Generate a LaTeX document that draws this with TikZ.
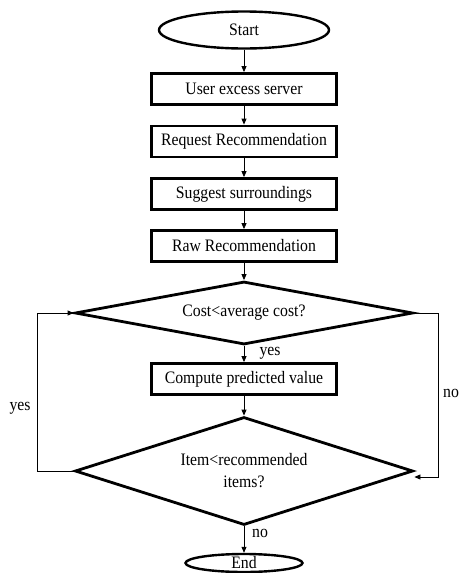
\documentclass[tikz,border=0pt]{standalone}
\usepackage{fontspec}
\setmainfont{Liberation Serif}[FakeStretch=0.9]
\usetikzlibrary{shapes.geometric,arrows.meta}
\begin{document}
\begin{tikzpicture}[x=1pt,y=-1pt,
  every node/.style={font=\fontsize{17.5}{22}\selectfont},
  procbox/.style={draw,line width=2.8pt,rectangle,minimum width=185pt,minimum height=31pt,inner sep=0pt},
  term/.style={draw,line width=2.4pt,ellipse,inner sep=0pt},
  decide/.style={draw,line width=2.8pt,diamond,inner sep=0pt,align=center},
  flow/.style={line width=0.8pt,-{Triangle[length=6pt,width=5pt]}},
  lbl/.style={inner sep=0pt,anchor=center}
]
\useasboundingbox (0,0) rectangle (459,573);
\node[term,minimum width=170pt,minimum height=37pt] (start) at (244,30) {Start};
\node[procbox] (b1) at (244,89) {User excess server};
\node[procbox] (b2) at (244,141.5) {Request Recommendation};
\node[procbox] (b3) at (244,194) {Suggest surroundings};
\node[procbox] (b4) at (244,246) {Raw Recommendation};
\node[decide,aspect=5,minimum width=338pt,minimum height=63pt] (d1) at (244,313) {Cost<average cost?};
\node[procbox] (b5) at (244,379) {Compute predicted value};
\node[decide,aspect=3,minimum width=338pt,minimum height=108pt] (d2) at (244,471) {Item<recommended\\items?};
\node[term,minimum width=117pt,minimum height=18pt] (end) at (244,563) {End};

\draw[flow] (start) -- (b1);
\draw[flow] (b1) -- (b2);
\draw[flow] (b2) -- (b3);
\draw[flow] (b3) -- (b4);
\draw[flow] (b4) -- (d1);
\draw[flow] (d1) -- (b5);
\draw[flow] (b5) -- (d2);
\draw[flow] (d2) -- (end);

\coordinate (noin) at ([yshift=-6pt]d2.east);
\draw[flow] (d2.west) -- ++(-36,0) |- (d1.west);
\draw[flow] (d1.east) -- ++(24,0) |- (noin);

\node[lbl] (yes1) at (270,353) {yes};
\node[lbl] (no1) at (260,533) {no};
\node[lbl] (yes2) at (20,408) {yes};
\node[lbl,anchor=west] (no2) at (443,393) {no};
\end{tikzpicture}
\end{document}
